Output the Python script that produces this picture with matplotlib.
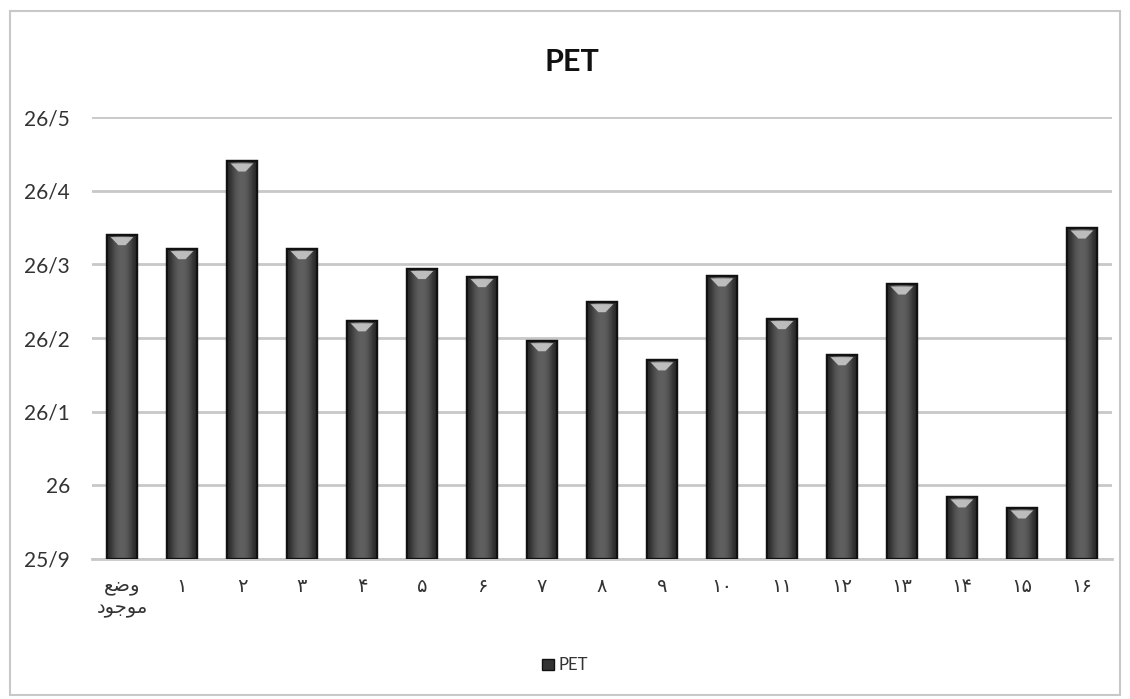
import matplotlib.pyplot as plt
import matplotlib.patches as mpatches
from matplotlib.ticker import FuncFormatter
import numpy as np

# scenario labels (Persian, pre-shaped glyphs in visual order)
categories = ['\ufeca\ufebf\ufeed\n\ufea9\ufeee\ufe9f\ufeee\ufee3',
              '۱', '۲', '۳', '۴', '۵', '۶', '۷', '۸', '۹',
              '۱۰', '۱۱', '۱۲', '۱۳', '۱۴', '۱۵', '۱۶']
pet = [26.34, 26.321, 26.44, 26.321, 26.223, 26.294, 26.283, 26.196, 26.249,
       26.170, 26.284, 26.226, 26.177, 26.273, 25.984, 25.969, 26.349]
y_ticks = [25.9, 26.0, 26.1, 26.2, 26.3, 26.4, 26.5]

plt.rcParams['font.family'] = ['Lato', 'DejaVu Sans']

fig = plt.figure(figsize=(11.3, 6.99), dpi=100)
ax = fig.add_axes([0.0814, 0.2003, 0.9026, 0.6323])

x = np.arange(len(categories))
bars = ax.bar(x, np.array(pet) - 25.9, 0.5, bottom=25.9, color='#4a4a4a',
              edgecolor='#111111', linewidth=1.6, zorder=3, label='PET')

# soft horizontal shading inside each bar plus a light cap at the top
grad = np.array([[0.16, 0.28, 0.36, 0.38, 0.36, 0.28, 0.16]])
for b in bars:
    x0, w = b.get_x(), b.get_width()
    y0, h = b.get_y(), b.get_height()
    im = ax.imshow(grad, cmap='gray', vmin=0, vmax=1, aspect='auto',
                   extent=[x0, x0 + w, y0, y0 + h], interpolation='bicubic',
                   zorder=3.1)
    im.set_clip_path(b)
    top = y0 + h
    cap = mpatches.Polygon([[x0 + w * 0.12, top - 0.003], [x0 + w * 0.88, top - 0.003],
                            [x0 + w * 0.62, top - 0.014], [x0 + w * 0.38, top - 0.014]],
                           closed=True, facecolor='#cfcfcf', edgecolor='none',
                           alpha=0.85, zorder=3.2)
    ax.add_patch(cap)
    ax.add_patch(mpatches.Rectangle((x0, y0), w, h, fill=False,
                                    edgecolor='#111111', linewidth=1.6, zorder=3.3))

ax.set_xlim(-0.5, len(categories) - 0.5)
ax.set_ylim(25.9, 26.5)
ax.set_yticks(y_ticks)
ax.yaxis.set_major_formatter(FuncFormatter(lambda v, p: ('%g' % round(v, 1)).replace('.', '/')))
ax.set_xticks(x)
ax.set_xticklabels(categories, fontsize=14, color='#333333', linespacing=1.25)
ax.tick_params(axis='both', length=0, colors='#333333')
ax.tick_params(axis='x', pad=14)
for lab in ax.get_yticklabels():
    lab.set_fontsize(15)
ax.tick_params(axis='y', pad=16)

ax.grid(axis='y', color='#c8c8c8', linewidth=2, zorder=0)
for s in ['left', 'right', 'top']:
    ax.spines[s].set_visible(False)
ax.spines['bottom'].set_color('#c8c8c8')
ax.spines['bottom'].set_linewidth(2)

fig.text(0.506, 0.911, 'PET', ha='center', va='center', fontsize=22,
         fontweight='bold', color='#111111')

handle = mpatches.Patch(facecolor='#333333', edgecolor='#111111', label='PET')
fig.legend(handles=[handle], loc='center', bbox_to_anchor=(0.5, 0.048),
           frameon=False, fontsize=12, handlelength=0.7, handleheight=0.7,
           handletextpad=0.3, labelcolor='#333333')

# light frame around the whole chart
fig.patches.append(mpatches.Rectangle((0.009, 0.006), 0.982, 0.978,
                                      transform=fig.transFigure, fill=False,
                                      edgecolor='#c8c8c8', linewidth=1.5))

fig.savefig('out.png', dpi=100)
